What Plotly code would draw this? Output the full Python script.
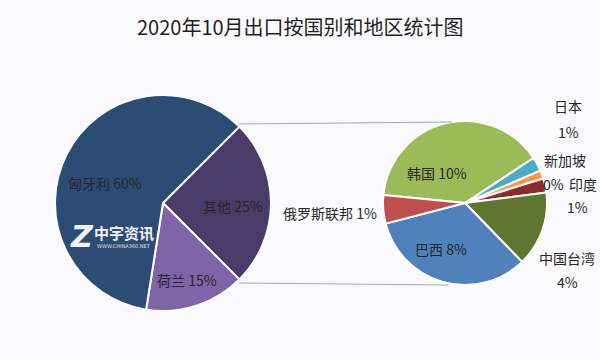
import plotly.graph_objects as go

# ---- data ----
main_labels = ["其他", "荷兰", "匈牙利"]
main_values = [25, 15, 60]
main_colors = ["#4B3B6B", "#7F64A9", "#2D4C75"]

sub_labels = ["韩国", "日本", "新加坡", "印度", "中国台湾", "巴西", "俄罗斯联邦"]
sub_values = [9.8, 0.7, 0.4, 0.7, 3.7, 8.3, 1.4]
sub_colors = ["#9BBB59", "#4BACC6", "#F79646", "#8C2B2B", "#5F7630", "#4F81BD", "#C0504D"]

title = "2020年10月出口按国别和地区统计图"

W, H = 600, 360
FONT = "Noto Sans CJK SC"

def px(x):
    return x / W

def py(y):
    return 1 - y / H

fig = go.Figure()

fig.add_trace(go.Pie(
    labels=main_labels, values=main_values, sort=False, direction="clockwise",
    rotation=45, textinfo="none", hoverinfo="label+percent",
    marker=dict(colors=main_colors, line=dict(color="white", width=2)),
    domain=dict(x=[px(55), px(271)], y=[py(311), py(95)]),
    showlegend=False,
))

fig.add_trace(go.Pie(
    labels=sub_labels, values=sub_values, sort=False, direction="clockwise",
    rotation=-84.4, textinfo="none", hoverinfo="label+value",
    marker=dict(colors=sub_colors, line=dict(color="white", width=2)),
    domain=dict(x=[px(383), px(547)], y=[py(285), py(121)]),
    showlegend=False,
))

total = sum(main_values)

def pct(v):
    return f"{round(v / total * 100):.0f}%"

annotations = []

def lab(text, x, y, size=14, color="#262626"):
    annotations.append(dict(text=text, x=px(x), y=py(y), xref="paper", yref="paper",
                            showarrow=False, font=dict(family=FONT, size=size, color=color),
                            xanchor="center", yanchor="middle"))

# main pie labels
main_pos = {"匈牙利": (105, 183), "其他": (233, 206), "荷兰": (187, 280)}
for l, v in zip(main_labels, main_values):
    x, y = main_pos[l]
    lab(f"{l} {pct(v)}", x, y)

# sub pie labels
inline_pos = {"韩国": (437, 173), "巴西": (441, 249), "俄罗斯联邦": (330, 213)}
stacked_pos = {"日本": (568, 106, 568, 132), "新加坡": (565, 160, 553, 184),
               "印度": (583, 184, 577, 207), "中国台湾": (567, 258, 567, 282)}
for l, v in zip(sub_labels, sub_values):
    if l in inline_pos:
        x, y = inline_pos[l]
        lab(f"{l} {pct(v)}", x, y)
    else:
        x1, y1, x2, y2 = stacked_pos[l]
        lab(l, x1, y1)
        lab(pct(v), x2, y2)

# title
annotations.append(dict(text=title, x=0.5, y=py(27), xref="paper", yref="paper",
                        showarrow=False, font=dict(family=FONT, size=20, color="#1F1F1F"),
                        xanchor="center", yanchor="middle"))

# watermark
annotations.append(dict(text="<b><i>Z</i></b>", x=px(82), y=py(236), xref="paper", yref="paper",
                        showarrow=False, font=dict(family="DejaVu Sans", size=30, color="#F2F2F2"),
                        xanchor="center", yanchor="middle"))
annotations.append(dict(text="<b>中宇资讯</b>", x=px(124), y=py(232), xref="paper", yref="paper",
                        showarrow=False, font=dict(family=FONT, size=15, color="#F2F2F2"),
                        xanchor="center", yanchor="middle"))
annotations.append(dict(text="WWW.CHINA360.NET", x=px(124), y=py(246), xref="paper", yref="paper",
                        showarrow=False, font=dict(family="DejaVu Sans", size=5, color="#E0E0E0"),
                        xanchor="center", yanchor="middle"))

shapes = [
    dict(type="line", xref="paper", yref="paper", x0=px(239), y0=py(124), x1=px(452), y1=py(122),
         line=dict(color="#A6A6A6", width=1)),
    dict(type="line", xref="paper", yref="paper", x0=px(239), y0=py(283), x1=px(448), y1=py(285),
         line=dict(color="#A6A6A6", width=1)),
]

fig.update_layout(
    width=W, height=H,
    margin=dict(l=0, r=0, t=0, b=0),
    paper_bgcolor="#FAFAFC", plot_bgcolor="#FAFAFC",
    annotations=annotations, shapes=shapes,
)

fig.write_html("out.html", config={"displayModeBar": False},
               post_script="document.body.style.margin='0';document.body.style.overflow='hidden';")
